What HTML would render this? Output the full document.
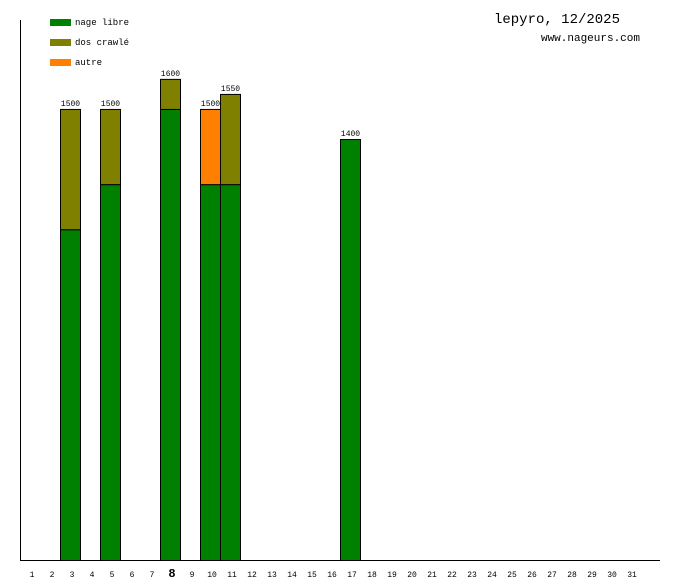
<!DOCTYPE html>
<html><head><meta charset="utf-8"><style>
body{margin:0;background:#fff;}
svg{display:block;font-family:"Liberation Mono",monospace;}
</style></head><body>
<svg width="680" height="580">
<g id="legend">
<rect x="50" y="19" width="21" height="7" fill="#008000"/>
<text x="75" y="25" font-size="9">nage libre</text>
<rect x="50" y="39" width="21" height="7" fill="#808000"/>
<text x="75" y="45" font-size="9">dos crawlé</text>
<rect x="50" y="59" width="21" height="7" fill="#ff8000"/>
<text x="75" y="65" font-size="9">autre</text>
</g>
<text x="620" y="23" font-size="14" text-anchor="end">lepyro, 12/2025</text>
<text x="640" y="41" font-size="11" text-anchor="end">www.nageurs.com</text>
<g id="bars"></g>
<g id="xlabels"></g>
<line x1="20.5" y1="20" x2="20.5" y2="560" stroke="#000"/>
<line x1="20" y1="560.5" x2="660" y2="560.5" stroke="#000"/>
</svg>
<script>
const days=[3,5,8,10,11,17];
const nageLibre=[1100,1250,1500,1250,1250,1400];
const dosCrawle=[400,250,100,0,300,0];
const autre=[0,0,0,250,0,0];
const totals=[1500,1500,1600,1500,1550,1400];
const dayLabels=Array.from({length:31},(_,i)=>String(i+1));
const highlightDay=8;
const NS="http://www.w3.org/2000/svg";
const yScale=v=>560-v*0.3007;
const xScale=d=>20+(d-1)*20;
function mk(tag,attrs,parent){const e=document.createElementNS(NS,tag);for(const k in attrs)e.setAttribute(k,attrs[k]);parent.appendChild(e);return e;}
const bars=document.getElementById('bars');
const series=[[nageLibre,'#008000','nage-libre'],[dosCrawle,'#808000','dos-crawle'],[autre,'#ff8000','autre']];
days.forEach((d,i)=>{
  let base=0;
  series.forEach(([arr,col,nm])=>{
    const v=arr[i]; if(!v)return;
    const y0=yScale(base),y1=yScale(base+v);
    const r=mk('rect',{x:xScale(d)+0.5,y:y1+0.5,width:20,height:y0-y1,fill:col,stroke:'#000','stroke-width':1},bars);
    
    
    base+=v;
  });
  const t=mk('text',{x:xScale(d)+10.5,y:yScale(totals[i])-3,'font-size':8,'text-anchor':'middle'},bars);
  t.textContent=totals[i];
  
  
});
const xl=document.getElementById('xlabels');
dayLabels.forEach((lab,i)=>{
  const d=i+1;const big=d===highlightDay;
  const t=mk('text',{x:xScale(d)+12,y:577,'font-size':big?12:8,'font-weight':big?'bold':'normal','text-anchor':'middle'},xl);
  t.textContent=lab;
  
  
});
</script>
</body></html>
